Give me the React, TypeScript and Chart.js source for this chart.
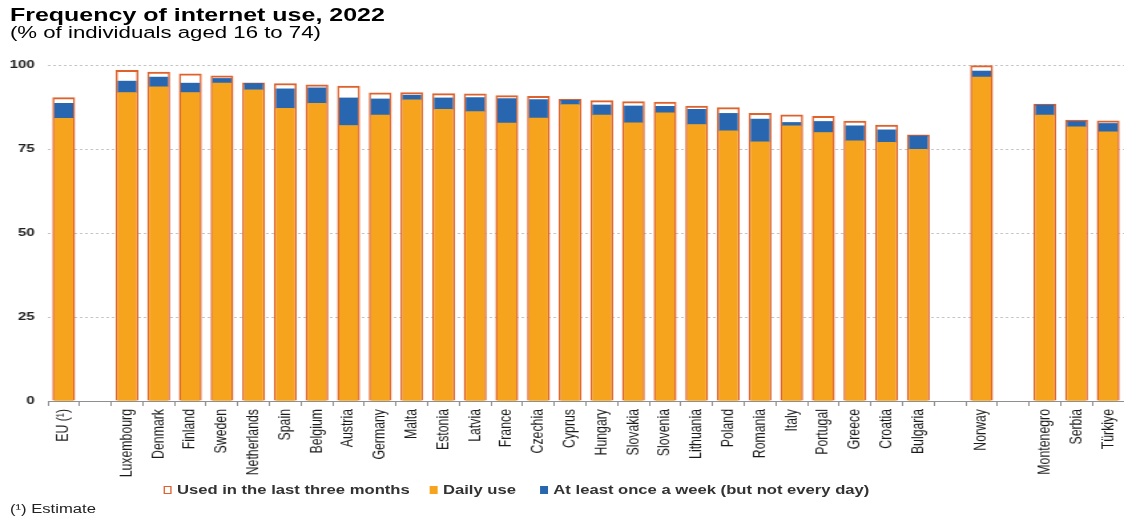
import React, { useEffect, useRef } from "react";
import { Chart, registerables } from "chart.js";

Chart.register(...registerables);

const categories = [
  "EU (¹)", "", "Luxembourg", "Denmark", "Finland", "Sweden", "Netherlands", "Spain", "Belgium",
  "Austria", "Germany", "Malta", "Estonia", "Latvia", "France", "Czechia", "Cyprus", "Hungary",
  "Slovakia", "Slovenia", "Lithuania", "Poland", "Romania", "Italy", "Portugal", "Greece",
  "Croatia", "Bulgaria", "", "Norway", "", "Montenegro", "Serbia", "Türkiye",
];

const dailyUse = [
  84.1, null, 91.8, 93.5, 91.8, 94.6, 92.6, 87.1, 88.6, 82.0, 85.1, 89.6, 86.8, 86.1, 82.7, 84.2,
  88.2, 85.1, 82.8, 85.8, 82.3, 80.4, 77.1, 81.9, 79.9, 77.4, 77.0, 74.9, null, 96.4, null, 85.1,
  81.6, 80.1,
];

const weeklyUse = [
  4.5, null, 3.4, 2.9, 2.8, 1.4, 1.9, 5.8, 4.6, 8.2, 4.8, 1.4, 3.4, 4.2, 7.3, 5.5, 1.3, 3.0, 5.0,
  1.9, 4.5, 5.2, 6.8, 1.0, 3.3, 4.5, 3.7, 4.0, null, 1.8, null, 3.0, 1.6, 2.5,
];

const lastThreeMonths = [
  90.3, null, 98.4, 97.9, 97.4, 96.8, 94.7, 94.5, 94.1, 93.7, 91.7, 91.8, 91.5, 91.4, 90.9, 90.7,
  89.8, 89.4, 89.1, 89.0, 87.8, 87.3, 85.6, 85.2, 84.7, 83.3, 82.1, 79.2, null, 99.8, null, 88.4,
  83.6, 83.4,
];

const yTicks = [0, 25, 50, 75, 100];

const seriesNames = ["Used in the last three months", "Daily use", "At least once a week (but not every day)"];

const COLORS = {
  border: "#DF612C",
  daily: "#F6A31D",
  weekly: "#2867B0",
};

const FONT = "'Liberation Sans', Arial, Helvetica, sans-serif";
const INNER_W = 845;
const H = 522;
const SX = 1124 / INNER_W;

export default function App() {
  const canvasRef = useRef<HTMLCanvasElement | null>(null);

  useEffect(() => {
    const canvas = canvasRef.current;
    if (!canvas) return;
    const chart = new Chart(canvas, {
      type: "bar",
      data: {
        labels: categories,
        datasets: [
          {
            label: seriesNames[0],
            data: lastThreeMonths,
            backgroundColor: "#ffffff",
            borderColor: COLORS.border,
            borderWidth: { top: 2, left: 1.5, right: 1.5, bottom: 0 },
            borderSkipped: false,
            barThickness: 16.5,
            grouped: false,
            stack: "total",
            order: 3,
          },
          {
            label: seriesNames[1],
            data: dailyUse,
            backgroundColor: COLORS.daily,
            borderWidth: 0,
            barThickness: 13.5,
            grouped: false,
            stack: "use",
            order: 1,
          },
          {
            label: seriesNames[2],
            data: weeklyUse,
            backgroundColor: COLORS.weekly,
            borderWidth: 0,
            barThickness: 13.5,
            grouped: false,
            stack: "use",
            order: 2,
          },
        ] as any,
      },
      options: {
        animation: false,
        responsive: false,
        maintainAspectRatio: false,
        layout: { padding: { top: 65, right: 0, bottom: 41, left: 0 } },
        plugins: {
          legend: { display: false },
          tooltip: { enabled: false },
          title: { display: false },
        },
        scales: {
          x: {
            stacked: false,
            offset: true,
            afterFit: (s: any) => {
              s.height = 80;
              s.paddingLeft = 0;
              s.paddingRight = 0;
            },
            grid: {
              display: true,
              offset: true,
              drawOnChartArea: false,
              drawTicks: true,
              tickLength: 5,
              color: "#8f8f8f",
            },
            border: { display: true, color: "#8f8f8f", width: 1 },
            ticks: {
              autoSkip: false,
              maxRotation: 90,
              minRotation: 90,
              padding: 3,
              color: "#1a1a1a",
              font: { family: FONT, size: 12.3 },
            },
          },
          y: {
            stacked: true,
            min: 0,
            max: 100,
            afterFit: (s: any) => {
              s.width = 36;
            },
            afterBuildTicks: (s: any) => {
              s.ticks = yTicks.map((v) => ({ value: v }));
            },
            grid: {
              color: "#c4c4c4",
              drawTicks: false,
              lineWidth: 1,
            },
            border: { display: false, dash: [2, 2] },
            ticks: {
              padding: 10,
              color: "#222222",
              font: { family: FONT, size: 11.3, weight: "bold" },
            },
          },
        },
      } as any,
    });
    return () => chart.destroy();
  }, []);

  const legendItem = (left: number, label: string, kind: "total" | "daily" | "weekly") => (
    <div
      key={label}
      style={{
        position: "absolute",
        left,
        top: 484,
        display: "flex",
        alignItems: "center",
        fontFamily: FONT,
        fontWeight: "bold",
        fontSize: 12.5,
        lineHeight: "12.5px",
        color: "#333333",
        whiteSpace: "nowrap",
      }}
    >
      <span
        style={{
          display: "inline-block",
          width: kind === "total" ? 4.5 : 6,
          height: kind === "total" ? 6 : 8,
          marginRight: 4,
          background: kind === "total" ? "#ffffff" : kind === "daily" ? COLORS.daily : COLORS.weekly,
          border: kind === "total" ? `1px solid ${COLORS.border}` : "none",
          borderTopWidth: kind === "total" ? 1.5 : 0,
          borderBottomWidth: kind === "total" ? 1.5 : 0,
        }}
      />
      <span>{label}</span>
    </div>
  );

  return (
    <div style={{ position: "fixed", left: 0, top: 0, width: 1124, height: H, background: "#ffffff", overflow: "hidden" }}>
      <div
        style={{
          position: "absolute",
          left: 0,
          top: 0,
          width: INNER_W,
          height: H,
          transform: `scaleX(${SX})`,
          transformOrigin: "0 0",
        }}
      >
        <canvas ref={canvasRef} width={INNER_W} height={H} style={{ display: "block", position: "absolute", left: 0, top: 0 }} />
        <div
          style={{
            position: "absolute",
            left: 7.5,
            top: 6.2,
            fontFamily: FONT,
            fontWeight: "bold",
            fontSize: 18.8,
            lineHeight: "18.8px",
            color: "#000000",
            whiteSpace: "nowrap",
          }}
        >
          Frequency of internet use, 2022
        </div>
        <div
          style={{
            position: "absolute",
            left: 7.5,
            top: 24.5,
            fontFamily: FONT,
            fontSize: 16.7,
            lineHeight: "16.7px",
            color: "#000000",
            whiteSpace: "nowrap",
          }}
        >
          (% of individuals aged 16 to 74)
        </div>
        {legendItem(122.5, seriesNames[0], "total")}
        {legendItem(323, seriesNames[1], "daily")}
        {legendItem(406, seriesNames[2], "weekly")}
        <div
          style={{
            position: "absolute",
            left: 7.5,
            top: 503,
            fontFamily: FONT,
            fontSize: 12.5,
            lineHeight: "13px",
            color: "#222222",
            whiteSpace: "nowrap",
          }}
        >
          (¹) Estimate
        </div>
      </div>
    </div>
  );
}
